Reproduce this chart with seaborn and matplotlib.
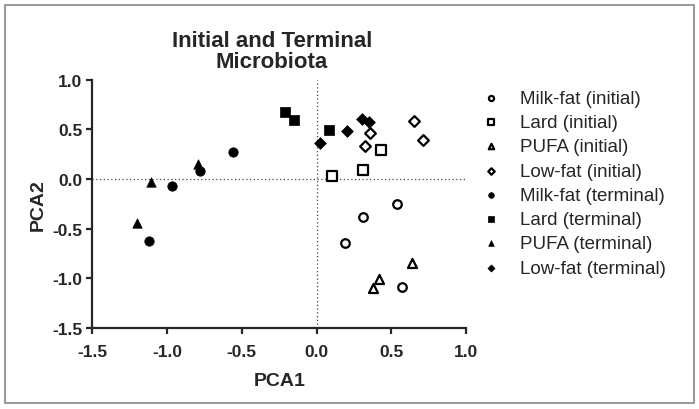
import numpy as np
import pandas as pd
import matplotlib
matplotlib.use("Agg")
import matplotlib.pyplot as plt
import seaborn as sns
from matplotlib.patches import Rectangle

# ---------- data ----------
groups = ["Milk-fat (initial)", "Lard (initial)", "PUFA (initial)", "Low-fat (initial)",
          "Milk-fat (terminal)", "Lard (terminal)", "PUFA (terminal)", "Low-fat (terminal)"]

milk_init_x = [0.31, 0.54, 0.19, 0.57]
milk_init_y = [-0.38, -0.25, -0.65, -1.09]
lard_init_x = [0.10, 0.31, 0.43]
lard_init_y = [0.03, 0.09, 0.29]
pufa_init_x = [0.64, 0.42, 0.38]
pufa_init_y = [-0.85, -1.01, -1.10]
low_init_x = [0.65, 0.71, 0.36, 0.32]
low_init_y = [0.58, 0.39, 0.46, 0.33]
milk_term_x = [-0.56, -0.78, -0.97, -1.12]
milk_term_y = [0.27, 0.08, -0.07, -0.62]
lard_term_x = [-0.21, -0.15, 0.08]
lard_term_y = [0.68, 0.59, 0.49]
pufa_term_x = [-0.79, -1.11, -1.20]
pufa_term_y = [0.15, -0.03, -0.44]
low_term_x = [0.02, 0.20, 0.30, 0.35]
low_term_y = [0.36, 0.48, 0.60, 0.57]

xs = [milk_init_x, lard_init_x, pufa_init_x, low_init_x,
      milk_term_x, lard_term_x, pufa_term_x, low_term_x]
ys = [milk_init_y, lard_init_y, pufa_init_y, low_init_y,
      milk_term_y, lard_term_y, pufa_term_y, low_term_y]

df = pd.concat([pd.DataFrame({"PCA1": x, "PCA2": y, "group": g})
                for g, x, y in zip(groups, xs, ys)], ignore_index=True)

markers = ["o", "s", "^", "D", "o", "s", "^", "D"]
sizes = [38, 42, 42, 30, 46, 46, 46, 36]
filled = [False] * 4 + [True] * 4

# ---------- plot ----------
sns.set_style("ticks")
plt.rcParams["font.family"] = ["Liberation Sans", "DejaVu Sans"]

fig = plt.figure(figsize=(6.99, 4.10), dpi=100)
ax = fig.add_axes([0.132, 0.198, 0.535, 0.605])

ax.axhline(0, color="#444444", lw=0.9, ls=(0, (1, 2)), zorder=0)
ax.axvline(0, color="#444444", lw=0.9, ls=(0, (1, 2)), zorder=0)

for g, m, s, f in zip(groups, markers, sizes, filled):
    sub = df[df["group"] == g]
    if f:
        sns.scatterplot(data=sub, x="PCA1", y="PCA2", marker=m, s=s, color="black",
                        edgecolor="black", linewidth=0.5, label=g, ax=ax, zorder=3)
    else:
        sns.scatterplot(data=sub, x="PCA1", y="PCA2", marker=m, s=s, facecolor="white",
                        edgecolor="black", linewidth=1.6, label=g, ax=ax, zorder=3)

ax.set_xlim(-1.5, 1.0)
ax.set_ylim(-1.5, 1.0)
ticks = np.arange(-1.5, 1.01, 0.5)
ax.set_xticks(ticks)
ax.set_yticks(ticks)
ax.set_xticklabels([f"{v:.1f}" for v in ticks])
ax.set_yticklabels([f"{v:.1f}" for v in ticks])
sns.despine(ax=ax)
for sp in ["left", "bottom"]:
    ax.spines[sp].set_linewidth(1.6)
ax.tick_params(width=1.6, length=4, labelsize=12.5)
ax.tick_params(axis="x", pad=8)
ax.tick_params(axis="y", pad=3)
for lab in ax.get_xticklabels() + ax.get_yticklabels():
    lab.set_fontweight("bold")

ax.set_xlabel("PCA1", fontsize=14, fontweight="bold", labelpad=9)
ax.set_ylabel("PCA2", fontsize=14, fontweight="bold", labelpad=4)
ax.set_title("Initial and Terminal\nMicrobiota", fontsize=16, fontweight="bold",
             linespacing=1.0, pad=9, x=0.48)

leg = ax.legend(loc="upper left", bbox_to_anchor=(1.005, 0.99), frameon=False,
                fontsize=13.5, markerscale=0.6, labelspacing=0.38, handletextpad=0.75,
                handlelength=1.6, borderaxespad=0)

fig.patches.append(Rectangle((5 / 699, 6 / 410), 689 / 699, 398 / 410, transform=fig.transFigure,
                             fill=False, edgecolor="#888888", lw=1.2))

fig.savefig("out.png", dpi=100)
